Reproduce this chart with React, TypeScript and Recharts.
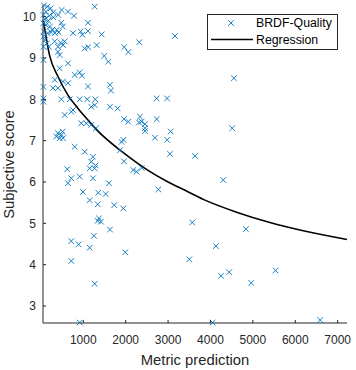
import React from 'react';
import { ComposedChart, Scatter, Line, XAxis, YAxis, Legend } from 'recharts';

// metric prediction (x) and subjective score (y) of each BRDF sample
const metricPrediction = [
  73, 151, 230, 293, 120, 198, 60, 96, 175, 293, 60, 120, 214, 269, 73, 159, 238, 60, 96, 60, 136, 190, 332, 372, 411, 490,
  639, 780, 1269, 482, 517, 420, 757, 938, 980, 1111, 1111, 1434, 1316, 2321, 1967, 2062, 3162, 1033, 1118, 1495, 1589,
  467, 521, 403, 403, 443, 326, 561, 443, 639, 60, 797, 915, 969, 326, 521, 639, 286, 403, 1111, 1630, 1653, 60, 60, 60,
  482, 680, 915, 1094, 1283, 1189, 1269, 1630, 1811, 757, 717, 561, 1960, 2062, 2337, 2313, 2377, 2455, 2455, 2455, 2690,
  2731, 2731, 2978, 2980, 3060, 3045, 953, 1071, 1189, 1300, 403, 482, 364, 443, 521, 512, 797, 1033, 1944, 1905, 1866,
  1960, 1229, 1189, 1151, 1269, 1290, 623, 2180, 2260, 2377,
  639, 717, 915, 1229, 993, 1151, 1354, 1340, 1528, 1606, 1731, 1944, 1370, 1417, 1340, 1630, 1252, 717, 892, 1151, 1990,
  717, 1269, 915, 2769,
  4302, 3571, 4836, 4129, 3500, 4247, 4443, 4962, 5536, 4050, 6588, 4553, 4514, 3634,
];
const subjectiveScore = [
  10.27, 10.24, 10.2, 10.1, 10.12, 10.02, 10.04, 9.94, 9.9, 9.98, 9.84, 9.8, 9.76, 9.68, 9.64, 9.6, 9.62, 9.52, 9.44, 9.27,
  9.35, 9.27, 9.6, 9.68, 10.04, 10.16,
  10.12, 10.02, 10.24, 9.85, 9.76, 9.62, 9.6, 9.64, 9.56, 9.85, 9.65, 9.57, 9.31, 9.38, 9.26, 9.14, 9.53, 9.23, 9.26, 9.05,
  8.91, 9.37, 9.31, 9.27, 9.15, 9.07, 9.4, 9.4, 8.75, 8.87, 8.95, 8.59, 8.65, 8.57, 8.47, 8.43, 8.39, 8.27, 8.27, 8.31,
  8.35, 8.21, 8.3, 8.02, 7.94, 8.0, 8.0, 8.0, 8.0, 8.0, 7.82, 7.86, 7.82, 7.78, 7.74, 7.7, 7.62, 7.52, 7.46, 7.58, 7.44,
  7.46, 7.4, 7.3, 7.23, 7.07, 7.52, 8.02, 8.02, 7.02, 7.22, 6.68, 7.42, 7.42, 7.38, 7.3, 7.18, 7.14, 7.1, 7.06, 7.06, 7.22,
  6.85, 6.73, 7.02, 6.97, 6.77, 6.5, 6.61, 6.49, 6.33, 6.33, 6.4, 6.31, 6.29, 6.25, 6.34,
  5.97, 6.09, 6.13, 6.09, 5.76, 5.56, 5.74, 5.46, 5.71, 5.97, 5.44, 5.36, 5.12, 5.04, 5.06, 4.85, 4.7, 4.57, 4.49, 4.41,
  4.3, 4.09, 3.54, 2.6, 5.82,
  6.05, 5.02, 4.86, 4.45, 4.13, 3.73, 3.82, 3.56, 3.86, 2.6, 2.66, 8.51, 7.3, 6.63,
];

// regression curve
const regressionX = [57, 208, 403, 639, 875, 1111, 1347, 1866, 2300, 2500, 3000, 3400, 3830, 4616, 5402, 6188, 7220];
const regressionY = [9.92, 9.05, 8.55, 8.1, 7.78, 7.5, 7.23, 6.77, 6.44, 6.3, 6.0, 5.8, 5.58, 5.27, 5.02, 4.82, 4.61];

const xTicks = [1000, 2000, 3000, 4000, 5000, 6000, 7000];
const yTicks = [3, 4, 5, 6, 7, 8, 9, 10];
const xDomain = [50, 7220];
const yDomain = [2.59, 10.28];

const points = metricPrediction.map((x, i) => ({ x, y: subjectiveScore[i] }));
const regression = regressionX.map((x, i) => ({ x, y: regressionY[i] }));

const AXIS = '#262626';
const BLUE = '#0072BD';
const FONT = '"Liberation Sans", Arial, sans-serif';
const TICK = 3;

const XMark = ({ cx, cy }: { cx: number; cy: number }) => (
  <path
    d={`M${cx - 2.8},${cy - 2.8}L${cx + 2.8},${cy + 2.8}M${cx - 2.8},${cy + 2.8}L${cx + 2.8},${cy - 2.8}`}
    stroke={BLUE}
    strokeWidth={0.9}
    fill="none"
  />
);

const BottomTick = ({ x, y, payload }: any) => (
  <g>
    <line x1={x} x2={x} y1={y} y2={y - TICK} stroke={AXIS} />
    <text x={x} y={y + 21} textAnchor="middle" fontSize={12} fill={AXIS} fontFamily={FONT}>
      {payload.value}
    </text>
  </g>
);

const LeftTick = ({ x, y, payload }: any) => (
  <g>
    <line x1={x} x2={x + TICK} y1={y} y2={y} stroke={AXIS} />
    <text x={x - 7} y={y + 4.3} textAnchor="end" fontSize={12} fill={AXIS} fontFamily={FONT}>
      {payload.value}
    </text>
  </g>
);

const TopTick = ({ x, y }: any) => <line x1={x} x2={x} y1={y} y2={y + TICK} stroke={AXIS} />;
const RightTick = ({ x, y }: any) => <line x1={x} x2={x - TICK} y1={y} y2={y} stroke={AXIS} />;

const renderLegend = () => (
  <svg width={131} height={36} style={{ display: 'block' }}>
    <rect x={0.5} y={0.5} width={130} height={35} fill="#fff" stroke={AXIS} />
    <XMark cx={24} cy={9} />
    <text x={49} y={12.7} fontSize={12.3} fill="#000" fontFamily={FONT}>BRDF-Quality</text>
    <line x1={4} x2={46} y1={25.5} y2={25.5} stroke="#000" strokeWidth={1.6} />
    <text x={49} y={30.3} fontSize={12.3} fill="#000" fontFamily={FONT}>Regression</text>
  </svg>
);

export default function App() {
  return (
    <div style={{ position: 'absolute', left: 0, top: 0, background: '#fff' }}>
      <ComposedChart width={356} height={370} margin={{ top: 5, right: 9, bottom: 0, left: 0 }}>
        <XAxis
          xAxisId="main"
          dataKey="x"
          type="number"
          domain={xDomain}
          ticks={xTicks}
          interval={0}
          height={47}
          tickSize={0}
          tickMargin={0}
          tick={<BottomTick />}
          tickLine={false}
          axisLine={{ stroke: AXIS }}
          label={() => (
            <text x={195} y={365} textAnchor="middle" fontSize={14.8} fill={AXIS} fontFamily={FONT}>
              Metric prediction
            </text>
          )}
        />
        <XAxis
          xAxisId="top"
          orientation="top"
          type="number"
          domain={xDomain}
          allowDataOverflow
          ticks={xTicks}
          interval={0}
          height={0}
          tickSize={0}
          tickMargin={0}
          tick={<TopTick />}
          tickLine={false}
          axisLine={{ stroke: AXIS }}
        />
        <YAxis
          yAxisId="main"
          dataKey="y"
          type="number"
          domain={yDomain}
          ticks={yTicks}
          interval={0}
          width={43}
          tickSize={0}
          tickMargin={0}
          tick={<LeftTick />}
          tickLine={false}
          axisLine={{ stroke: AXIS }}
          label={() => (
            <text
              transform="translate(13.5,164.5) rotate(-90)"
              textAnchor="middle"
              fontSize={14.8}
              fill={AXIS}
              fontFamily={FONT}
            >
              Subjective score
            </text>
          )}
        />
        <YAxis
          yAxisId="right"
          orientation="right"
          type="number"
          domain={yDomain}
          allowDataOverflow
          ticks={yTicks}
          interval={0}
          width={0}
          tickSize={0}
          tickMargin={0}
          tick={<RightTick />}
          tickLine={false}
          axisLine={{ stroke: AXIS }}
        />
        <Scatter
          name="BRDF-Quality"
          xAxisId="main"
          yAxisId="main"
          data={points}
          isAnimationActive={false}
          shape={(p: any) => <XMark cx={p.cx} cy={p.cy} />}
        />
        <Line
          name="Regression"
          xAxisId="main"
          yAxisId="main"
          data={regression}
          dataKey="y"
          type="monotone"
          stroke="#000"
          strokeWidth={1.6}
          dot={false}
          activeDot={false}
          isAnimationActive={false}
        />
        <Legend
          layout="vertical"
          align="center"
          verticalAlign="middle"
          wrapperStyle={{ left: 207, top: 14, width: 131, height: 36 }}
          content={renderLegend}
        />
      </ComposedChart>
    </div>
  );
}
